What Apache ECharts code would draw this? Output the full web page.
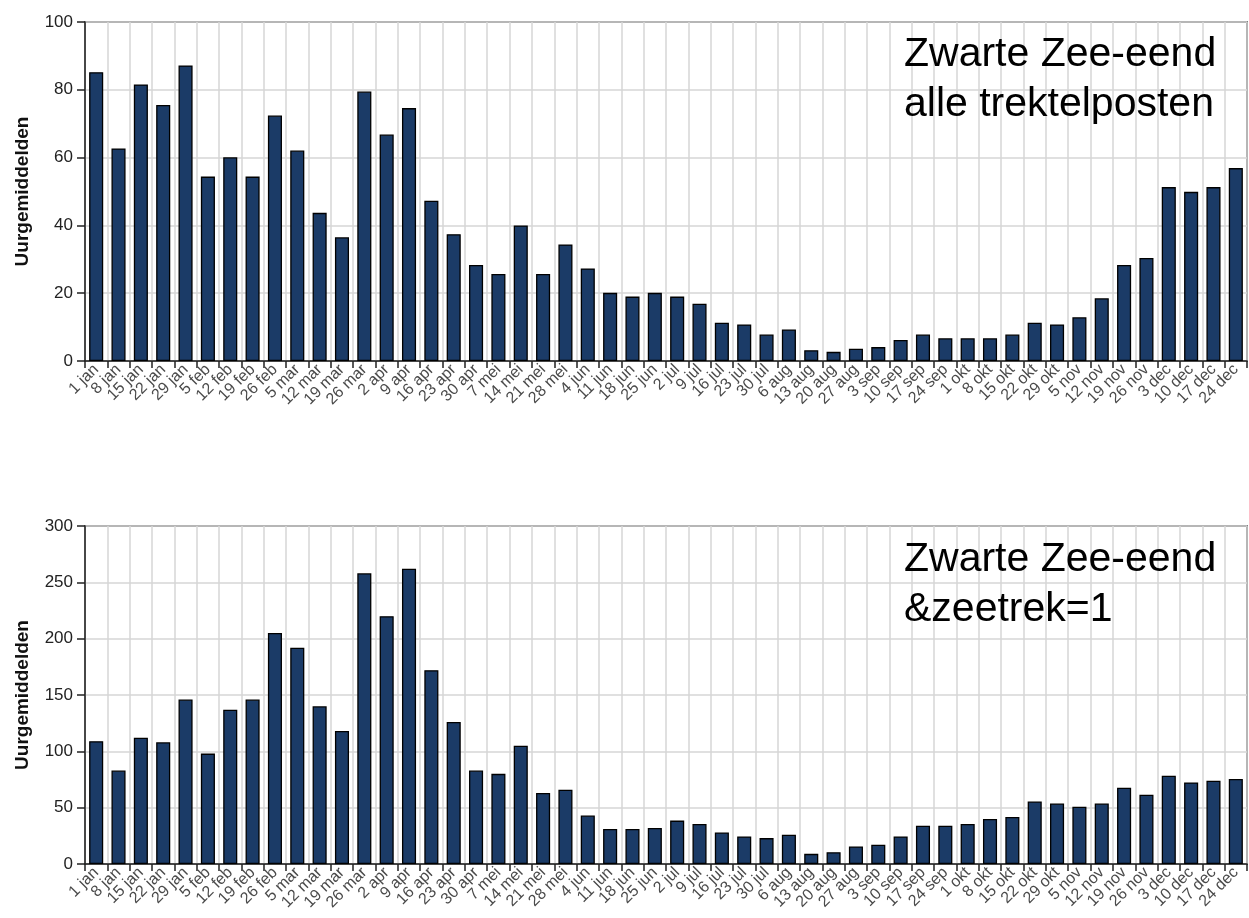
<!DOCTYPE html>
<html>
<head>
<meta charset="utf-8">
<script src="https://cdn.jsdelivr.net/npm/echarts@6/dist/echarts.min.js"></script>
<style>
html,body{margin:0;padding:0;background:#fff;}
#chart{width:1249px;height:918px;}
</style>
</head>
<body>
<div id="chart"></div>
<script>
const categories = ['1 jan','8 jan','15 jan','22 jan','29 jan','5 feb','12 feb','19 feb','26 feb','5 mar','12 mar','19 mar','26 mar','2 apr','9 apr','16 apr','23 apr','30 apr','7 mei','14 mei','21 mei','28 mei','4 jun','11 jun','18 jun','25 jun','2 jul','9 jul','16 jul','23 jul','30 jul','6 aug','13 aug','20 aug','27 aug','3 sep','10 sep','17 sep','24 sep','1 okt','8 okt','15 okt','22 okt','29 okt','5 nov','12 nov','19 nov','26 nov','3 dec','10 dec','17 dec','24 dec'];

const alleTrektelposten = [85.2,62.7,81.6,75.5,87.2,54.4,60.1,54.4,72.4,62.1,43.7,36.5,79.5,66.8,74.6,47.3,37.4,28.3,25.7,40.0,25.7,34.4,27.3,20.1,19.0,20.1,19.0,16.9,11.3,10.8,7.8,9.3,3.2,2.7,3.6,4.1,6.2,7.8,6.7,6.7,6.7,7.8,11.3,10.8,12.9,18.5,28.3,30.4,51.3,49.9,51.3,56.9];

const zeetrek = [109,83,112,108,146,98,137,146,205,192,140,118,258,220,262,172,126,83,80,105,63,66,43,31,31,32,38.5,35.5,28,24.5,23,26,9,10.5,15.6,17.1,24.5,34,34,35.5,40,41.7,55.5,53.7,50.8,53.7,67.7,61.5,78.3,72.4,73.9,75.4];

const topTitle = 'Zwarte Zee-eend\nalle trektelposten';
const bottomTitle = 'Zwarte Zee-eend\n&zeetrek=1';
const yName = 'Uurgemiddelden';
const topMax = 100, topInterval = 20;
const bottomMax = 300, bottomInterval = 50;

const chart = echarts.init(document.getElementById('chart'), null, {renderer:'canvas'});
const FONT = 'Liberation Sans, Arial, sans-serif';

function xAxis(gridIndex){
  return {
    type:'category', gridIndex, data:categories, boundaryGap:true,
    axisLine:{show:true, lineStyle:{color:'#222', width:1.5}},
    axisTick:{show:true, interval:0, length:7, lineStyle:{color:'#222', width:1.5}},
    axisLabel:{interval:0, rotate:45, fontSize:16, color:'#4a4a4a', fontFamily:FONT, margin:6},
    splitLine:{show:true, interval:0, lineStyle:{color:'#d6d6d6', width:1.5}}
  };
}
function yAxis(gridIndex, max, interval){
  return {
    type:'value', gridIndex, min:0, max, interval,
    name:yName, nameLocation:'middle', nameGap:53,
    nameTextStyle:{fontSize:19, fontWeight:'bold', color:'#111', fontFamily:FONT},
    axisLine:{show:true, lineStyle:{color:'#222', width:1.5}},
    axisTick:{show:true, length:8, lineStyle:{color:'#222', width:1.5}},
    axisLabel:{fontSize:17, color:'#222', fontFamily:FONT, margin:12},
    splitLine:{show:true, lineStyle:{color:'#d6d6d6', width:1.5}}
  };
}
function barSeries(idx, data){
  return {
    type:'bar', xAxisIndex:idx, yAxisIndex:idx, data, barWidth:'63%',
    itemStyle:{color:'#1b3b67', borderColor:'#000', borderWidth:1.3},
    silent:true, animation:false
  };
}

chart.setOption({
  animation:false,
  backgroundColor:'#fff',
  title:[
    {text:topTitle, left:904, top:30, padding:0, textStyle:{fontSize:41, lineHeight:50, fontWeight:'normal', color:'#000', fontFamily:FONT}},
    {text:bottomTitle, left:904, top:535, padding:0, textStyle:{fontSize:41, lineHeight:50, fontWeight:'normal', color:'#000', fontFamily:FONT}}
  ],
  grid:[
    {left:85, top:22, width:1162, height:339, show:true, borderColor:'#222', borderWidth:1.5, backgroundColor:'transparent'},
    {left:85, top:526, width:1162, height:338, show:true, borderColor:'#222', borderWidth:1.5, backgroundColor:'transparent'}
  ],
  xAxis:[xAxis(0), xAxis(1)],
  yAxis:[yAxis(0, topMax, topInterval), yAxis(1, bottomMax, bottomInterval)],
  series:[barSeries(0, alleTrektelposten), barSeries(1, zeetrek)]
});
</script>
</body>
</html>
